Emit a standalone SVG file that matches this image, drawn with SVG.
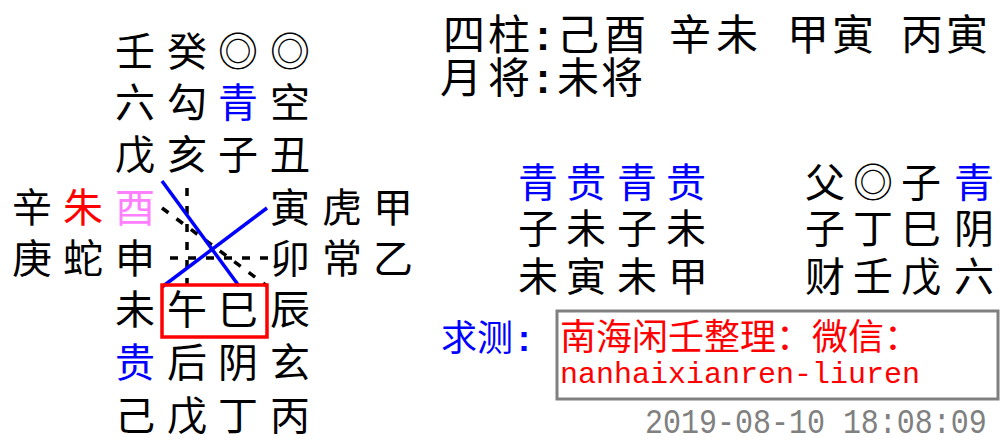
<svg xmlns="http://www.w3.org/2000/svg" width="1005" height="447" viewBox="0 0 1005 447">
<style>
text{font-family:"Noto Sans CJK SC","Noto Sans CJK TC",sans-serif;fill:#000}
.g{font-size:40px;text-anchor:middle}
.t{font-size:42px;text-anchor:middle}
.b{fill:#0000ff}
.r{fill:#ff0000}
.p{fill:#ff80ff}
.colon{font-family:"Liberation Sans",sans-serif;font-weight:bold}
.solid{stroke:#0000ff;stroke-width:3.5;fill:none}
.dash{stroke:#000;stroke-width:3.5;stroke-dasharray:8 10;fill:none}
</style>
<rect width="1005" height="447" fill="#fff"/>
<g id="connectors">
<line class="dash" x1="187" y1="188" x2="187" y2="285"/>
<line class="dash" x1="170" y1="258" x2="268" y2="258"/>
<line class="dash" x1="162" y1="208" x2="267" y2="286"/>
<line class="solid" x1="162" y1="181" x2="239" y2="286"/>
<line class="solid" x1="267" y1="208" x2="162" y2="287"/>
</g>
<g id="board">
<g id="row-top"><text class="g" x="135 187 238 290" y="66">壬癸◎◎</text></g>
<g id="row-gods-top"><text class="g" x="135 187" y="117">六勾</text><text class="g b" x="238" y="117">青</text><text class="g" x="290" y="117">空</text></g>
<g id="row-branch-top"><text class="g" x="135 187 238 290" y="169">戊亥子丑</text></g>
<g id="row-3"><text class="g" x="32" y="222">辛</text><text class="g r" x="83" y="222">朱</text><text class="g p" x="135" y="222">酉</text><text class="g" x="290 342 393" y="222">寅虎甲</text></g>
<g id="row-4"><text class="g" x="32 83 135" y="273">庚蛇申</text><text class="g" x="290 342 393" y="273">卯常乙</text></g>
<g id="row-branch-bottom"><text class="g" x="135 187 238 290" y="324">未午巳辰</text></g>
<g id="row-gods-bottom"><text class="g b" x="135" y="377">贵</text><text class="g" x="187 238 290" y="377">后阴玄</text></g>
<g id="row-bottom"><text class="g" x="135 187 238 290" y="430">己戊丁丙</text></g>
<g id="highlight"><rect x="162" y="285" width="105" height="52" fill="none" stroke="#ff0000" stroke-width="3.5"/></g>
</g>
<g id="pillars">
<text class="t" y="50"><tspan x="464 509">四柱</tspan><tspan class="colon" x="543">:</tspan><tspan x="578 625 690 737 808 853 922 967">己酉辛未甲寅丙寅</tspan></text>
<text class="t" y="93"><tspan x="461 509">月将</tspan><tspan class="colon" x="543">:</tspan><tspan x="578 622">未将</tspan></text>
</g>
<g id="lessons">
<text class="g b" x="538 586 637 686" y="197">青贵青贵</text>
<text class="g" x="538 586 637 686" y="243">子未子未</text>
<text class="g" x="538 586 637 688" y="291">未寅未甲</text>
</g>
<g id="transmissions">
<text class="g" x="825 873 921" y="197">父◎子</text><text class="g b" x="974" y="197">青</text>
<text class="g" x="825 873 921 974" y="243">子丁巳阴</text>
<text class="g" x="825 873 921 974" y="291">财壬戊六</text>
</g>
<g id="query">
<text class="b" style="font-size:36px" y="351"><tspan x="441">求测</tspan><tspan class="colon" x="518">:</tspan></text>
</g>
<g id="note">
<rect x="557" y="311" width="441" height="88" fill="none" stroke="#808080" stroke-width="3"/>
<text class="r" x="560" y="350" style="font-size:36px">南海闲壬整理：微信：</text>
<text class="r" x="560" y="383" style="font-family:'Liberation Mono',monospace;font-size:30px">nanhaixianren-liuren</text>
</g>
<g id="timestamp">
<text transform="translate(645 433) scale(1 1.17)" x="0" y="0" style="font-family:'Liberation Mono',monospace;font-size:30px;fill:#808080">2019-08-10 18:08:09</text>
</g>
</svg>
